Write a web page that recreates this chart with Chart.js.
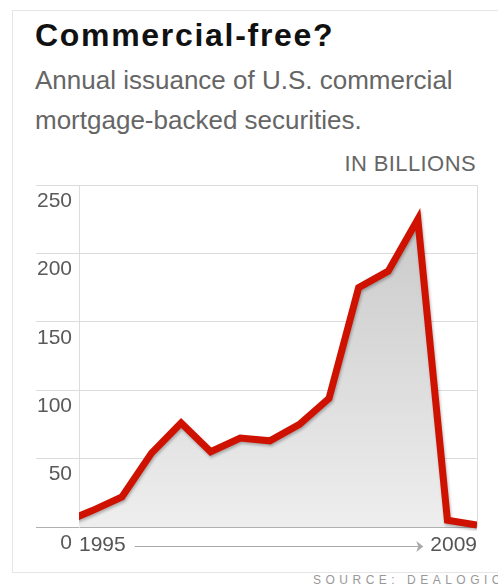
<!DOCTYPE html>
<html>
<head>
<meta charset="utf-8">
<script src="https://cdn.jsdelivr.net/npm/chart.js@4/dist/chart.umd.min.js"></script>
<style>
  html, body { margin: 0; padding: 0; background: #fff; }
  body { width: 498px; height: 586px; position: relative; overflow: hidden; font-family: "Liberation Sans", Arial, sans-serif; }
  .frame { position: absolute; left: 12px; top: 10px; width: 500px; height: 561px; border: 1px solid #e6e6e6; }
  .title { position: absolute; left: 35px; top: 17px; font-size: 32px; font-weight: bold; color: #111; letter-spacing: 1.7px; white-space: nowrap; }
  .sub { position: absolute; left: 35px; top: 60px; font-size: 26px; line-height: 40px; color: #666; white-space: nowrap; }
  .unit { position: absolute; right: 22px; top: 151px; font-size: 22px; letter-spacing: 0.4px; color: #666; white-space: nowrap; }
  .source { position: absolute; left: 313px; top: 573px; font-size: 12px; letter-spacing: 4.5px; color: #999; white-space: nowrap; }
  #wrap { position: absolute; left: 0; top: 140px; width: 498px; height: 430px; }
</style>
</head>
<body>
<div class="frame"></div>
<div class="title">Commercial-free?</div>
<div class="sub">Annual issuance of U.S. commercial<br>mortgage-backed securities.</div>
<div class="unit">IN BILLIONS</div>
<div id="wrap"><canvas id="chart" width="498" height="430"></canvas></div>
<div class="source">SOURCE: DEALOGIC</div>
<script>
// issuance per year, billions of dollars
const years = [1995, 1996, 1997, 1998, 1999, 2000, 2001, 2002, 2003, 2004, 2005, 2006, 2007, 2008, 2009];
const issuance = [3, 12, 22, 54, 76, 55, 65, 63, 75, 94, 175, 187, 225, 5, 1.5];
const xTickLabels = ['1995', '2009'];
const yTicks = [0, 50, 100, 150, 200, 250];

const fontFamily = '"Liberation Sans", Arial, sans-serif';

// grey arrow between the two year labels
const arrowPlugin = {
    id: 'yearArrow',
    afterDraw(chart) {
        const x = chart.scales.x;
        const ctx = chart.ctx;
        ctx.save();
        ctx.font = '21px ' + fontFamily;
        const w1 = ctx.measureText(xTickLabels[0]).width;
        const w2 = ctx.measureText(xTickLabels[1]).width;
        const y = Math.round(x.top + 6 + 12.5) + 0.5;
        const x1 = x.left + w1 + 9;
        const x2 = x.right - w2 - 10;
        ctx.strokeStyle = '#a8a8a8';
        ctx.lineWidth = 1;
        ctx.beginPath();
        ctx.moveTo(x1, y);
        ctx.lineTo(x2 - 2, y);
        ctx.stroke();
        ctx.fillStyle = '#a8a8a8';
        ctx.beginPath();
        ctx.moveTo(x2 + 3, y);
        ctx.lineTo(x2 - 4, y - 5.5);
        ctx.lineTo(x2 - 2, y);
        ctx.lineTo(x2 - 4, y + 5.5);
        ctx.closePath();
        ctx.fill();
        ctx.restore();
    }
};

// soft shadow under the red line
const shadowPlugin = {
    id: 'lineShadow',
    beforeDatasetDraw(chart) {
        const ctx = chart.ctx;
        ctx.save();
        ctx.shadowColor = 'rgba(0,0,0,0.28)';
        ctx.shadowBlur = 3;
        ctx.shadowOffsetX = 1;
        ctx.shadowOffsetY = 2;
    },
    afterDatasetDraw(chart) {
        chart.ctx.restore();
    }
};

new Chart(document.getElementById('chart'), {
    type: 'line',
    data: {
        datasets: [{
            data: years.map((y, i) => ({ x: y, y: issuance[i] })),
            borderColor: '#cf1200',
            borderWidth: 7,
            borderJoinStyle: 'miter',
            pointRadius: 0,
            tension: 0,
            clip: { left: 0, right: 0, top: 20, bottom: 4 },
            fill: 'origin',
            backgroundColor: (c) => {
                const area = c.chart.chartArea;
                if (!area) return '#e0e0e0';
                const g = c.chart.ctx.createLinearGradient(0, area.top, 0, area.bottom);
                g.addColorStop(0, '#c6c6c6');
                g.addColorStop(1, '#eeeeee');
                return g;
            }
        }]
    },
    options: {
        responsive: false,
        animation: false,
        devicePixelRatio: 1,
        layout: { padding: { top: 45, right: 21, left: 0, bottom: 0 } },
        plugins: { legend: { display: false }, tooltip: { enabled: false } },
        scales: {
            x: {
                type: 'linear',
                min: 1995.55,
                max: 2009,
                afterBuildTicks: (s) => { s.ticks = [{ value: s.min }, { value: s.max }]; },
                afterFit: (s) => { s.height = 43; },
                ticks: {
                    callback: (v, i) => xTickLabels[i],
                    align: 'inner',
                    maxRotation: 0,
                    autoSkip: false,
                    padding: 6,
                    color: '#555',
                    font: { family: fontFamily, size: 21 }
                },
                grid: { color: '#dcdcdc', drawTicks: false },
                border: { display: false }
            },
            y: {
                min: 0,
                max: 250,
                afterBuildTicks: (s) => { s.ticks = yTicks.map(v => ({ value: v })); },
                afterFit: (s) => { s.width = 79; },
                ticks: {
                    padding: -36,
                    labelOffset: 16,
                    color: '#5a5a5a',
                    font: { family: fontFamily, size: 21 }
                },
                grid: {
                    color: (c) => (c.tick && c.tick.value === 0 ? '#b0b0b0' : '#dcdcdc'),
                    drawTicks: true,
                    tickLength: 43
                },
                border: { color: '#dcdcdc' }
            }
        }
    },
    plugins: [arrowPlugin, shadowPlugin]
});
</script>
</body>
</html>
